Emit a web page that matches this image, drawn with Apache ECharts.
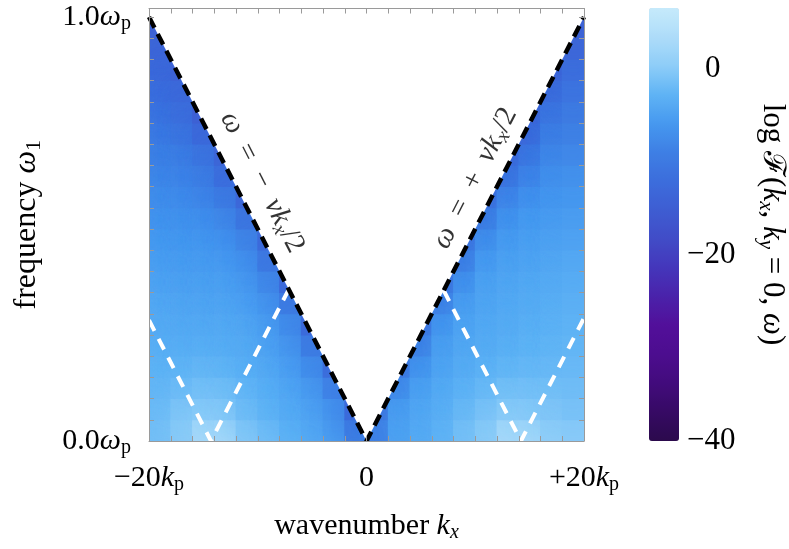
<!DOCTYPE html>
<html><head><meta charset="utf-8">
<script src="https://cdn.jsdelivr.net/npm/echarts@6/dist/echarts.min.js"></script>
<style>html,body{margin:0;padding:0;background:#fff}#c{width:789px;height:549px}</style>
</head><body><div id="c"></div>
<script>
// ---- data ----
const kCenters = [-19,-17,-15,-13,-11,-9,-7,-5,-3,-1,1,3,5,7,9,11,13,15,17,19];
const omegaCenters = [0.025,0.075,0.125,0.175,0.225,0.275,0.325,0.375,0.425,0.475,0.525,0.575,0.625,0.675,0.725,0.775,0.825,0.875,0.925,0.975];
// log F values per k column, from omega = 0.025 upward (cells above the light line are absent)
const colKm19 = [-1.5,-2,-2.4,-2.8,-3.2,-3.6,-4,-4.5,-5,-5.6,-6.3,-7,-7.8,-8.6,-9.5,-10.5,-11.5,-12.5,-13.2,-14];
const colKm17 = [-0.3,-0.8,-1.8,-2.7,-3.3,-3.8,-4.2,-4.7,-5.2,-5.8,-6.4,-7.1,-7.9,-8.8,-10,-11.2,-12.5,-14];
const colKm15 = [2.5,0,-1.2,-2.3,-3.2,-3.8,-4.3,-4.8,-5.3,-5.8,-6.5,-7.5,-8.6,-10,-12.5,-14.5];
const colKm13 = [2.5,0,-1.3,-2.5,-3.3,-3.8,-4.3,-4.8,-5.3,-6,-7.2,-9,-11.5,-13.5];
const colKm11 = [-0.3,-1.5,-2.2,-3,-3.6,-4.1,-4.6,-5.2,-6,-7.5,-10,-13];
const colKm9  = [-1.5,-2.5,-3,-3.7,-4.3,-4.8,-5.5,-7,-9.5,-12.5];
const colKm7  = [-2.8,-3.5,-4,-4.6,-5.3,-6.5,-9,-12.5];
const colKm5  = [-3.8,-4.3,-5,-6.5,-9,-12.5];
const colKm3  = [-5,-5.5,-8,-12];
const colKm1  = [-9,-12.5];
const colKp1  = [-9,-12.5];
const colKp3  = [-5,-5.3,-7.5,-12];
const colKp5  = [-4,-4.3,-5,-6.5,-9,-12.5];
const colKp7  = [-3,-3.5,-4,-4.6,-5.2,-6.3,-8.8,-12.5];
const colKp9  = [-1.5,-2.3,-3,-3.7,-4.2,-4.6,-5.2,-6.8,-9.5,-12.5];
const colKp11 = [-0.3,-1.2,-2.2,-3,-3.6,-4,-4.4,-4.8,-5.5,-7,-9.8,-13];
const colKp13 = [2.5,0,-1.3,-2.5,-3.2,-3.6,-4,-4.3,-4.8,-5.4,-6.5,-8,-11,-13.5];
const colKp15 = [2.5,0,-1.2,-2.2,-2.8,-3.2,-3.6,-4,-4.5,-5,-5.6,-6.6,-8.2,-10.5,-13,-14.5];
const colKp17 = [0.5,-0.5,-1.3,-2.1,-2.6,-3,-3.3,-3.7,-4.2,-4.7,-5.3,-6,-6.8,-7.8,-9,-10.5,-12.3,-14];
const colKp19 = [0,-1,-1.6,-2.1,-2.5,-2.8,-3.1,-3.5,-4,-4.6,-5.2,-5.9,-6.7,-7.6,-8.6,-9.6,-10.7,-11.8,-13,-14];
const logFColumns = [colKm19,colKm17,colKm15,colKm13,colKm11,colKm9,colKm7,colKm5,colKm3,colKm1,
                     colKp1,colKp3,colKp5,colKp7,colKp9,colKp11,colKp13,colKp15,colKp17,colKp19];

const lightLine = [[-20,1],[0,0],[20,1]];          // omega = ±v kx/2
const emptyRegion = [[-20,1.02],[-20,1],[0,0],[20,1],[20,1.02]];
const whiteLeft = [[-20,0.285],[-14.3,0],[-7.15,0.3575]];
const whiteRight = [[7.1,0.355],[14.2,0],[20,0.29]];
const labelLeftPos = [[-9.6,0.61]];
const labelRightPos = [[10.0,0.62]];
const cbMin = -40, cbMax = 6.5;
const cbColors = ['#2b0a4c','#360a64','#420b7c','#4c0d8f','#520f9a','#4a22aa','#4436bb','#414cc7',
                  '#3e5dd2','#3c6ddc','#3e7fe4','#4698ef','#5fb3f5','#8ecdf8','#aedcf9','#c6eafb'];

// ---- build ----
const heatData = [];
logFColumns.forEach((col, i) => col.forEach((v, j) => heatData.push([kCenters[i], omegaCenters[j], v])));
const dk = kCenters[1] - kCenters[0], dw = omegaCenters[1] - omegaCenters[0];

const FONT = '"Liberation Serif","Times New Roman",serif';
function richSet(fs){
  return {
    n: {fontFamily: FONT, fontSize: fs, lineHeight: fs+4, color:'#000'},
    i: {fontFamily: FONT, fontSize: fs, lineHeight: fs+4, fontStyle:'italic', color:'#000'},
    s: {fontFamily: FONT, fontSize: Math.round(fs*0.68), lineHeight: Math.round(fs*0.55), verticalAlign:'bottom', color:'#000'},
    si:{fontFamily: FONT, fontSize: Math.round(fs*0.68), lineHeight: Math.round(fs*0.55), verticalAlign:'bottom', fontStyle:'italic', color:'#000'},
    pad:{fontFamily: FONT, fontSize: fs, width: Math.round(fs*0.58)}
  };
}
const axGray = '#9a9a9a';
const tickStyle = {show:true, inside:true, length:5, lineStyle:{color:axGray, width:1}};
const lineStyleAx = {show:true, onZero:false, lineStyle:{color:axGray, width:1}};

const chart = echarts.init(document.getElementById('c'), null, {renderer:'canvas'});
chart.setOption({
  backgroundColor:'#fff',
  animation:false,
  grid:[
    {left:149, top:7, width:435, height:434},
    {left:649, top:8, width:30, height:433}
  ],
  xAxis:[
    {type:'value', gridIndex:0, min:-20, max:20, interval:2, position:'bottom', z:5,
     axisLine:lineStyleAx, axisTick:tickStyle, splitLine:{show:false},
     axisLabel:{margin:20, fontFamily:FONT, fontSize:30, lineHeight:34, color:'#000', rich:richSet(30),
       formatter:v => v===-20 ? '{n|−20}{i|k}{s|p}' : v===0 ? '{n|0}' : v===20 ? '{n|+20}{i|k}{s|p}' : ''},
     name:'{n|wavenumber }{i|k}{si|x}', nameLocation:'middle', nameGap:68,
     nameTextStyle:{fontFamily:FONT, fontSize:30, color:'#000', rich:richSet(30)}},
    {type:'value', gridIndex:0, min:-20, max:20, interval:2, position:'top', z:5,
     axisLine:lineStyleAx, axisTick:tickStyle, axisLabel:{show:false}, splitLine:{show:false}},
    {type:'value', gridIndex:1, min:0, max:1, show:false}
  ],
  yAxis:[
    {type:'value', gridIndex:0, min:0, max:1.02, interval:0.05, position:'left', z:5,
     axisLine:lineStyleAx, axisTick:tickStyle, splitLine:{show:false},
     axisLabel:{margin:18, fontFamily:FONT, fontSize:30, lineHeight:34, color:'#000', rich:richSet(30),
       formatter:v => Math.abs(v-1)<1e-9 ? '{n|1.0}{i|ω}{s|p}' : Math.abs(v)<1e-9 ? '{n|0.0}{i|ω}{s|p}' : ''},
     name:'{n|frequency }{i|ω}{s|1}', nameLocation:'middle', nameRotate:90, nameGap:104,
     nameTextStyle:{fontFamily:FONT, fontSize:32, color:'#000', rich:richSet(32)}},
    {type:'value', gridIndex:0, min:0, max:1.02, interval:0.05, position:'right', z:5,
     axisLine:lineStyleAx, axisTick:tickStyle, axisLabel:{show:false}, splitLine:{show:false}},
    {type:'value', gridIndex:1, min:cbMin, max:cbMax, interval:20, position:'right',
     axisLine:{show:false, onZero:false}, axisTick:{show:false}, splitLine:{show:false},
     axisLabel:{margin:9, align:'left', fontFamily:FONT, fontSize:31, color:'#000', rich:richSet(31),
       formatter:v => v===0 ? '{pad| }{n|0}' : (v===-20||v===-40) ? '{n|−' + Math.abs(v) + '}' : ''},
     name:'{n|log ℱ(}{i|k}{si|x}{n|, }{i|k}{si|y}{n| = 0, }{i|ω}{n|)}', nameLocation:'middle', nameRotate:-90, nameGap:77,
     nameTextStyle:{fontFamily:FONT, fontSize:31, color:'#000', rich:richSet(31)}}
  ],
  visualMap:[{
    type:'continuous', seriesIndex:0, dimension:2, min:cbMin, max:cbMax,
    calculable:false, show:true, left:649, top:8, itemWidth:30, itemHeight:433, padding:0,
    text:null, hoverLink:false, inRange:{color:cbColors}, textStyle:{color:'rgba(0,0,0,0)'}
  }],
  series:[
    {type:'custom', xAxisIndex:0, yAxisIndex:0, z:1, data:heatData, clip:true,
     encode:{x:0, y:1},
     renderItem:(params, api) => {
       const k = api.value(0), w = api.value(1);
       const p0 = api.coord([k - dk/2, w + dw/2]);
       const p1 = api.coord([k + dk/2, w - dw/2]);
       const c = api.visual('color');
       return {type:'rect', shape:{x:p0[0]-0.4, y:p0[1]-0.4, width:p1[0]-p0[0]+0.8, height:p1[1]-p0[1]+0.8},
               style:{fill:c, shadowBlur:32, shadowColor:c}};
     }},
    {type:'custom', xAxisIndex:0, yAxisIndex:0, z:2, data:[0],
     renderItem:(params, api) => ({type:'polygon', shape:{points:emptyRegion.map(p => api.coord(p))}, style:{fill:'#fff'}})},
    {type:'line', xAxisIndex:0, yAxisIndex:0, z:3, data:whiteLeft, symbol:'none',
     lineStyle:{color:'#fff', width:4, type:[12,9]}},
    {type:'line', xAxisIndex:0, yAxisIndex:0, z:3, data:whiteRight, symbol:'none',
     lineStyle:{color:'#fff', width:4, type:[12,9]}},
    {type:'line', xAxisIndex:0, yAxisIndex:0, z:4, data:lightLine, symbol:'none',
     lineStyle:{color:'#000', width:4.5, type:[12,7]}},
    {type:'scatter', xAxisIndex:0, yAxisIndex:0, z:4, data:labelLeftPos, symbolSize:1,
     itemStyle:{color:'rgba(0,0,0,0)'},
     label:{show:true, position:'inside', rotate:-63, formatter:'{i|ω}{n|  =  −  }{i|vk}{si|x}{n|/2}', rich:richSet(29)}},
    {type:'scatter', xAxisIndex:0, yAxisIndex:0, z:4, data:labelRightPos, symbolSize:1,
     itemStyle:{color:'rgba(0,0,0,0)'},
     label:{show:true, position:'inside', rotate:63, formatter:'{i|ω}{n|  =  +  }{i|vk}{si|x}{n|/2}', rich:richSet(29)}}
  ]
});
</script></body></html>
